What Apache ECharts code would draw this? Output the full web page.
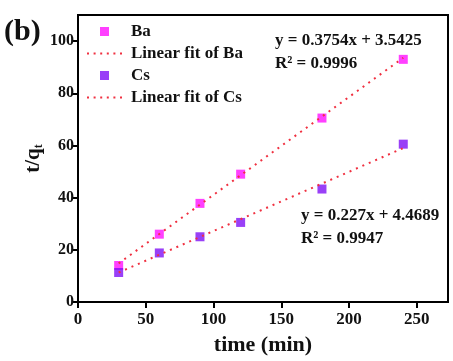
<!DOCTYPE html>
<html>
<head>
<meta charset="utf-8">
<script src="https://cdn.jsdelivr.net/npm/echarts@6/dist/echarts.min.js"></script>
<style>
  html, body { margin: 0; padding: 0; background: #fff; }
  #chart { width: 453px; height: 361px; }
</style>
</head>
<body>
<div id="chart"></div>
<script>
  // time (min)
  const times = [30, 60, 90, 120, 180, 240];
  const baValues = [14, 26, 37.8, 49, 70.5, 93];
  const csValues = [11.3, 18.8, 25, 30.5, 43.3, 60.5];
  // fit line end points
  const fitBa = [[30, 14.8], [240, 93.6]];
  const fitCs = [[30, 11.3], [240, 59]];
  const xTicks = [0, 50, 100, 150, 200, 250];
  const yTicks = [0, 20, 40, 60, 80, 100];

  const font = "'Liberation Serif', 'Times New Roman', serif";
  const fitColor = "#f03040";
  // legend icons: small square and a dotted stroke
  const squareIcon = "path://M0,0h10v10h-10z";
  const dotIcon = "path://M0,0h2v2h-2z M6.6,0h2v2h-2z M13.2,0h2v2h-2z M19.8,0h2v2h-2z M26.4,0h2v2h-2z M33,0h2v2h-2z";

  const chart = echarts.init(document.getElementById("chart"));

  chart.setOption({
    animation: false,
    grid: {
      left: 78,
      right: 5,
      top: 15,
      bottom: 59,
      show: true,
      borderColor: "#000",
      borderWidth: 2,
    },
    legend: {
      orient: "vertical",
      left: 82,
      top: 18,
      itemWidth: 35,
      itemHeight: 9,
      itemGap: 5,
      symbolKeepAspect: true,
      textStyle: { fontFamily: font, fontWeight: "bold", fontSize: 17, color: "#111", padding: [0, 0, 0, 4] },
      data: [
        { name: "Ba", icon: squareIcon },
        { name: "Linear fit of Ba", icon: dotIcon },
        { name: "Cs", icon: squareIcon },
        { name: "Linear fit of Cs", icon: dotIcon },
      ],
    },
    xAxis: {
      type: "value",
      min: 0,
      max: 273,
      interval: 50,
      name: "time (min)",
      nameLocation: "middle",
      nameGap: 32,
      nameTextStyle: { fontFamily: font, fontWeight: "bold", fontSize: 22, color: "#111" },
      splitLine: { show: false },
      axisLine: { lineStyle: { color: "#000", width: 2 } },
      axisTick: { length: 6, lineStyle: { width: 2 } },
      axisLabel: {
        fontFamily: font, fontWeight: "bold", fontSize: 17, color: "#111", margin: 9,
        showMaxLabel: false,
        formatter: (v) => (xTicks.includes(v) ? String(v) : ""),
      },
    },
    yAxis: {
      type: "value",
      min: 0,
      max: 110,
      interval: 20,
      name: "t/q{sub|t}",
      nameLocation: "middle",
      nameGap: 33,
      nameMoveOverlap: false,
      nameTextStyle: {
        fontFamily: font, fontWeight: "bold", fontSize: 21, color: "#111",
        rich: {
          sub: { fontFamily: font, fontWeight: "bold", fontSize: 12, color: "#111", verticalAlign: "bottom", padding: [10, 0, 0, 0] },
        },
      },
      splitLine: { show: false },
      axisLine: { lineStyle: { color: "#000", width: 2 } },
      axisTick: { length: 6, lineStyle: { width: 2 } },
      axisLabel: {
        fontFamily: font, fontWeight: "bold", fontSize: 16, color: "#111", margin: 4,
        showMaxLabel: false,
        formatter: (v) => (yTicks.includes(v) ? String(v) : ""),
      },
    },
    graphic: [
      { type: "text", left: 4, top: 17, style: { text: "(b)", font: "bold 30px " + font, fill: "#111" } },
      { type: "text", left: 275, top: 32, style: { text: "y = 0.3754x + 3.5425", font: "bold 17px " + font, fill: "#111" } },
      { type: "text", left: 275, top: 55, style: { text: "R² = 0.9996", font: "bold 17px " + font, fill: "#111" } },
      { type: "text", left: 301, top: 207, style: { text: "y = 0.227x + 4.4689", font: "bold 17px " + font, fill: "#111" } },
      { type: "text", left: 301, top: 230, style: { text: "R² = 0.9947", font: "bold 17px " + font, fill: "#111" } },
    ],
    series: [
      {
        name: "Ba",
        type: "scatter",
        symbol: "rect",
        symbolSize: 9,
        itemStyle: { color: "#ff10ff" },
        data: times.map((t, i) => [t, baValues[i]]),
        z: 3,
      },
      {
        name: "Linear fit of Ba",
        type: "line",
        symbol: "none",
        itemStyle: { color: fitColor },
        lineStyle: { color: fitColor, width: 2, type: [2, 5] },
        data: fitBa,
        z: 4,
      },
      {
        name: "Cs",
        type: "scatter",
        symbol: "rect",
        symbolSize: 9,
        itemStyle: { color: "#8010f5" },
        data: times.map((t, i) => [t, csValues[i]]),
        z: 3,
      },
      {
        name: "Linear fit of Cs",
        type: "line",
        symbol: "none",
        itemStyle: { color: fitColor },
        lineStyle: { color: fitColor, width: 2, type: [2, 5] },
        data: fitCs,
        z: 4,
      },
    ],
  });
</script>
</body>
</html>
